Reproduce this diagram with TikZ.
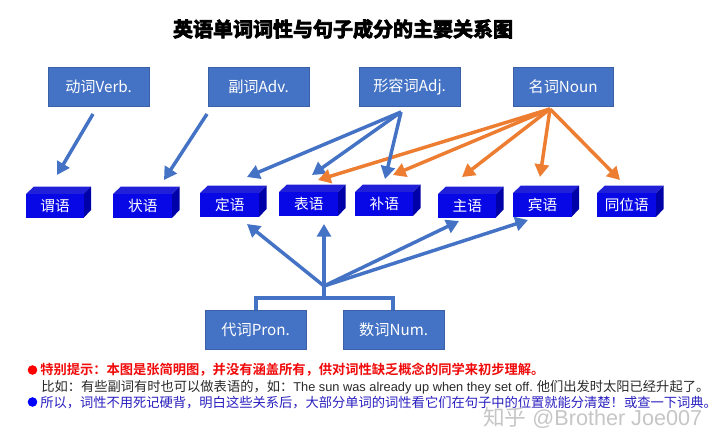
\documentclass[tikz,border=0pt]{standalone}
\usepackage{fontspec}
\setmainfont{Liberation Sans}
\newfontfamily\cjk{Noto Sans CJK SC}
\newfontfamily\cjktitle[FakeBold=4]{Noto Sans CJK SC Bold}
\newfontfamily\cjkbold{Noto Sans CJK SC Bold}
\usetikzlibrary{arrows.meta}
\definecolor{boxblue}{HTML}{4472C4}
\definecolor{frontblue}{HTML}{0808E6}
\definecolor{topblue}{HTML}{2020D8}
\definecolor{sideblue}{HTML}{0000A8}
\definecolor{arrorange}{HTML}{ED7D31}
\definecolor{notered}{HTML}{F00A0A}
\definecolor{noteblue}{HTML}{2A1FC0}
\definecolor{notegray}{HTML}{2A2A2A}
\tikzset{
  wordbox/.style={fill=boxblue,draw=boxblue!85!black,line width=0.4pt,text=white,anchor=north west,inner sep=0pt,minimum width=75.5pt,minimum height=29.5pt,font=\cjk\fontsize{11.4pt}{13pt}\selectfont},
  frontface/.style={fill=frontblue,anchor=north west,inner sep=0pt,text=white,minimum width=44pt,minimum height=18pt,font=\cjk\fontsize{11pt}{13pt}\selectfont},
  topface/.style={fill=topblue},
  sideface/.style={fill=sideblue},
  bluearrow/.style={draw=boxblue,line width=2.6pt,-{Triangle[length=9.5pt,width=10.5pt]}},
  orangearrow/.style={draw=arrorange,line width=2.6pt,-{Triangle[length=9.5pt,width=10.5pt]}},
  bracket/.style={draw=boxblue,line width=2.6pt},
  notetext/.style={anchor=west,inner sep=0pt,font=\cjk\fontsize{9.95pt}{12pt}\selectfont},
  bullet/.style={circle,inner sep=0pt,minimum size=7.2pt},
}
\newcommand{\wordblock}[7]{% name, x, y, width, topy offset, height, text
  \fill[topface] (#2,#3) -- (#2+8,#3-#5) -- (#2+#4+7.5,#3-#5) -- (#2+#4,#3) -- cycle;
  \fill[sideface] (#2+#4,#3) -- (#2+#4+7.5,#3-#5) -- (#2+#4+7.5,#3+#6-8) -- (#2+#4,#3+#6) -- cycle;
  \node[frontface,minimum width=#4*0.75pt,minimum height=#6*0.75pt] (#1) at (#2,#3) {#7};
}
\begin{document}
\begin{tikzpicture}[x=0.75pt,y=-0.75pt]
\useasboundingbox (0,0) rectangle (720,442);
\fill[white] (0,0) rectangle (720,442);
\node[anchor=center,inner sep=0pt,font=\cjktitle\fontsize{15pt}{17pt}\selectfont] (title) at (343,29) {英语单词词性与句子成分的主要关系图};
% top boxes
\node[wordbox] (verb) at (48,67) {{\cjk 动词}Verb.};
\node[wordbox] (adv) at (208,67) {{\cjk 副词}Adv.};
\node[wordbox] (adj) at (359,67) {{\cjk 形容词}Adj.};
\node[wordbox] (noun) at (512.5,67) {{\cjk 名词}Noun};
% blocks
\wordblock{weiyu}{26}{194}{57.5}{7.5}{24}{谓语}
\wordblock{zhuangyu}{113}{194}{59}{7.5}{24}{状语}
\wordblock{dingyu}{200}{193}{59}{7.5}{24}{定语}
\wordblock{biaoyu}{279}{192}{59}{7.5}{24}{表语}
\wordblock{buyu}{355}{192}{58}{7.5}{24}{补语}
\wordblock{zhuyu}{438}{194}{58}{7.5}{23.5}{主语}
\wordblock{binyu}{513}{193}{58.5}{7.5}{24}{宾语}
\wordblock{tongwei}{597}{193}{59}{7.5}{24}{同位语}
% bottom boxes
\node[wordbox] (pron) at (205,310) {{\cjk 代词}Pron.};
\node[wordbox] (num) at (343,310) {{\cjk 数词}Num.};
% hubs and free ends
\coordinate (verbtail) at (93,114);
\coordinate (verbtip) at (57,175);
\coordinate (advtail) at (207,114);
\coordinate (advtip) at (164,180);
\coordinate (adjhub) at (401,112);
\coordinate (nounhub) at (550,109);
\coordinate (lowhub) at (324,286);
\coordinate (junction) at (324,298);
\coordinate (pronup) at (256,298);
\coordinate (numup) at (393,298);
\coordinate (adjding) at (247,177);
\coordinate (adjbiao) at (312,175);
\coordinate (adjbu) at (385,179);
\coordinate (nounbiao) at (318,180);
\coordinate (nounbu) at (393,175);
\coordinate (nounzhu) at (462,177);
\coordinate (nounbin) at (540,177);
\coordinate (nountong) at (620,180);
\coordinate (lowding) at (247,224);
\coordinate (lowbiao) at (324,224);
\coordinate (lowzhu) at (459,221);
\coordinate (lowbin) at (528,220);
% connectors
\draw[bluearrow] (verbtail) -- (verbtip);
\draw[bluearrow] (advtail) -- (advtip);
\draw[bluearrow] (adjhub) -- (adjding);
\draw[bluearrow] (adjhub) -- (adjbiao);
\draw[orangearrow] (nounhub) -- (nounbiao);
\draw[orangearrow] (nounhub) -- (nounbu);
\draw[orangearrow] (nounhub) -- (nounzhu);
\draw[orangearrow] (nounhub) -- (nounbin);
\draw[orangearrow] (nounhub) -- (nountong);
\draw[bluearrow] (adjhub) -- (adjbu);
\draw[bluearrow] (lowhub) -- (lowding);
\draw[bluearrow] (lowhub) -- (lowbiao);
\draw[bluearrow] (lowhub) -- (lowzhu);
\draw[bluearrow] (lowhub) -- (lowbin);
\draw[bracket] (lowhub) -- (junction);
\draw[bracket,line cap=butt] (pron.north -| pronup) -- (pronup) -- (numup) -- (num.north -| numup);
% notes
\node[bullet,fill=red] (bulletone) at (32.5,370) {};
\node[notetext,text=notered] (noteone) at (40,370) {\cjkbold\fontsize{9.95pt}{12pt}\selectfont 特别提示：本图是张简明图，并没有涵盖所有，供对词性缺乏概念的同学来初步理解。};
\node[notetext,text=notegray] (notetwo) at (41,387) {比如：有些副词有时也可以做表语的，如：{\rmfamily\fontsize{9.6pt}{12pt}\selectfont The sun was already up when they set off.} 他们出发时太阳已经升起了。};
\node[bullet,fill=blue] (bullettwo) at (32.5,402) {};
\node[notetext,text=noteblue] (notethree) at (40,403) {所以，词性不用死记硬背，明白这些关系后，大部分单词的词性看它们在句子中的位置就能分清楚！或查一下词典。};
% watermark
\node[anchor=west,inner sep=0pt,text=gray!45,font=\fontsize{16.2pt}{18pt}\selectfont] (mark) at (483,418) {{\cjk 知乎} @Brother Joe007};
\end{tikzpicture}
\end{document}
